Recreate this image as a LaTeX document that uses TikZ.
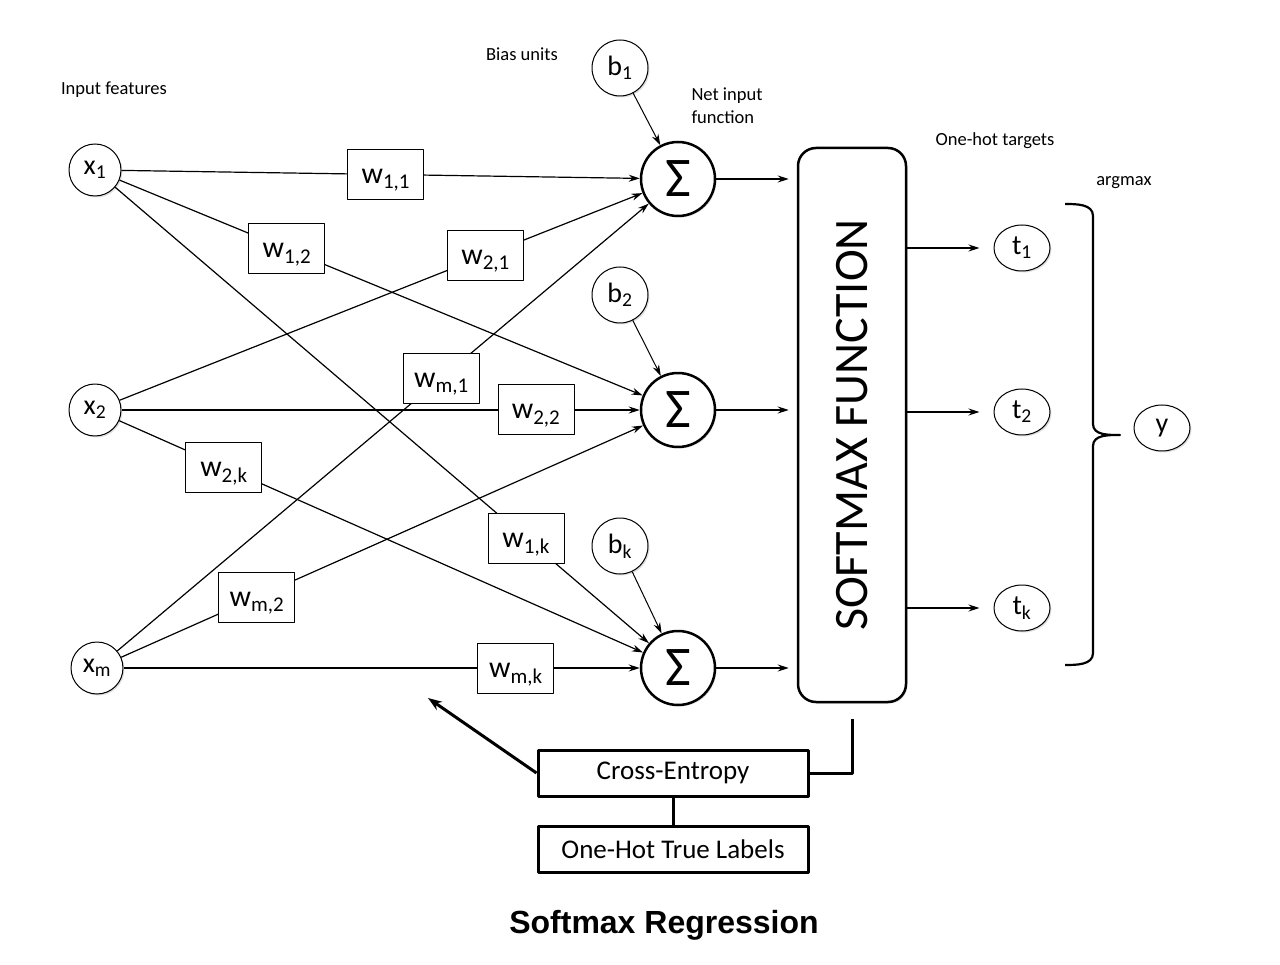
\documentclass[tikz,border=0pt]{standalone}
\usepackage{fontspec}
\setmainfont{Carlito}
\newfontfamily\titlefont{Liberation Sans}
\usetikzlibrary{arrows.meta,shapes.geometric,shadows}

\newcommand\notefont{\fontsize{18.5}{23}\selectfont}
\newcommand\unitfont{\fontsize{28}{30}\selectfont}
\newcommand\wfont{\fontsize{30}{32}\selectfont}
\newcommand\sumfont{\fontsize{56}{60}\selectfont}
\newcommand\boxfont{\fontsize{27}{30}\selectfont}

\tikzset{
  softshadow/.style={drop shadow={shadow xshift=1.5pt,shadow yshift=-1.5pt,opacity=.25}},
  unit/.style={circle,draw,line width=1pt,fill=white,minimum size=52pt,inner sep=0pt,softshadow,font=\unitfont},
  target/.style={ellipse,draw,line width=1pt,fill=white,minimum width=56pt,minimum height=46pt,inner sep=0pt,softshadow,font=\unitfont},
  sumunit/.style={circle,draw,line width=2.5pt,fill=white,minimum size=74pt,inner sep=0pt,softshadow,font=\sumfont},
  wbox/.style={rectangle,draw,line width=1pt,fill=white,minimum width=76pt,minimum height=50pt,inner xsep=10pt,
    text height=22pt,text depth=4pt,font=\wfont},
  lossbox/.style={rectangle,draw,line width=3pt,fill=white,minimum width=270pt,minimum height=46pt,softshadow,font=\boxfont},
  wire/.style={line width=1.2pt},
}

\begin{document}
\begin{tikzpicture}[x=1pt,y=-1pt,line join=round,>={Stealth[length=11pt,width=7pt]},font=\notefont]
\useasboundingbox (0,0) rectangle (1280,965);
% input, bias and net input units
\node[unit] (x1) at (95,170) {x\textsubscript{1}};
\node[unit] (x2) at (95,410) {x\textsubscript{2}};
\node[unit] (xm) at (97,668) {x\textsubscript{m}};
\node[unit,minimum size=56pt] (b1) at (620,68) {b\textsubscript{1}};
\node[unit,minimum size=56pt] (b2) at (620,295) {b\textsubscript{2}};
\node[unit,minimum size=56pt] (bk) at (620,546) {b\textsubscript{k}};
\node[sumunit] (s1) at (678,179) {Σ};
\node[sumunit] (s2) at (678,410) {Σ};
\node[sumunit] (sk) at (678,668) {Σ};
\node[rectangle,draw,fill=white,line width=2.5pt,rounded corners=18pt,minimum width=554pt,minimum height=108pt,rotate=90,
  softshadow,font=\fontsize{48}{52}\selectfont] (smax) at (852,425) {SOFTMAX FUNCTION};
\node[target] (t1) at (1022,248) {t\textsubscript{1}};
\node[target] (t2) at (1022,412) {t\textsubscript{2}};
\node[target] (tk) at (1022,608) {t\textsubscript{k}};
\node[target] (y) at (1162,428) {y};
% labels
\node (inlbl) at (114,90) {Input features};
\node (biaslbl) at (522,54) {Bias units};
\node[anchor=west,align=left] (netlbl) at (688,106) {Net input\\function};
\node (hotlbl) at (995,141) {One-hot targets};
\node (arglbl) at (1124,183) {argmax};
% weighted inputs
\draw[wire,->] (xm) -- node[wbox,pos=.61] (wm1) {w\textsubscript{m,1}} (s1);
\draw[wire,->] (xm) -- node[wbox,pos=.26] (wm2) {w\textsubscript{m,2}} (s2);
\draw[wire,->] (xm) -- node[wbox,pos=.76] (wmk) {w\textsubscript{m,k}} (sk);
\draw[wire,->] (x2) -- node[wbox,pos=.70] (w21) {w\textsubscript{2,1}} (s1);
\draw[wire,->] (x2) -- node[wbox,pos=.80] (w22) {w\textsubscript{2,2}} (s2);
\draw[wire,->] (x2) -- node[wbox,pos=.20] (w2k) {w\textsubscript{2,k}} (sk);
\draw[wire,->] (x1) -- node[wbox,pos=.51] (w11) {w\textsubscript{1,1}} (s1);
\draw[wire,->] (x1) -- node[wbox,pos=.32] (w12) {w\textsubscript{1,2}} (s2);
\draw[wire,->] (x1) -- node[wbox,pos=.77] (w1k) {w\textsubscript{1,k}} (sk);
\foreach \k in {1,2,k}{
  \draw[line width=1pt,->] (b\k) -- (s\k);
  \draw[wire,->,shorten >=8pt] (s\k) -- (s\k -| smax.north);
  \draw[wire,->,shorten >=14pt] (t\k -| smax.south) -- (t\k);
}
% argmax bracket
\draw[line width=2.2pt] (1065,204) to[out=0,in=90] (1093,216) -- (1093,424) to[out=-90,in=180] (1120,435)
  to[out=180,in=90] (1093,446) -- (1093,653) to[out=-90,in=0] (1065,665);
% loss and update
\node[lossbox] (cross) at (673,773) {Cross-Entropy};
\node[lossbox] (truelbl) at (673,849) {One-Hot True Labels};
\coordinate (fb) at ([yshift=-16pt]smax.west);
\coordinate (upd) at (428,698);
\draw[line width=3pt] (fb) |- (cross.east);
\draw[line width=3pt] (cross) -- (truelbl);
\draw[line width=3pt,-{Stealth[length=14pt,width=10pt]}] (cross.west) -- (upd);
\node[font=\titlefont\bfseries\fontsize{32}{36}\selectfont] (title) at (664,925) {Softmax Regression};
\end{tikzpicture}
\end{document}
